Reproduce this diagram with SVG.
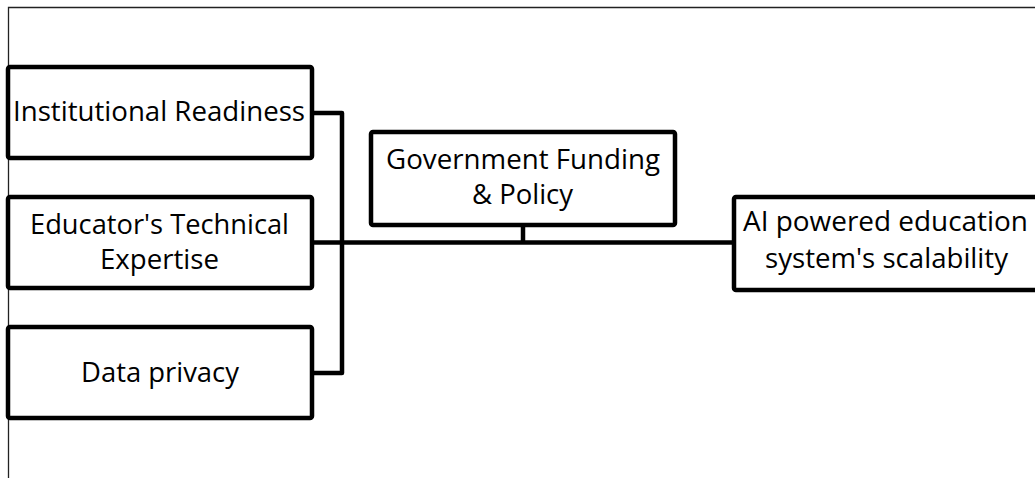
<svg xmlns="http://www.w3.org/2000/svg" width="1035" height="478" viewBox="0 0 1035 478">
  <style>
    .box { fill: #ffffff; stroke: #000000; stroke-width: 4.5; stroke-linejoin: round; }
    .lbl { font-family: "Open Sans", "Noto Sans", "Liberation Sans", sans-serif; font-size: 26.5px; fill: #000000; text-anchor: middle; }
    .wire { fill: none; stroke: #000000; stroke-width: 4.5; stroke-linejoin: round; }
    .frame { fill: none; stroke: #222222; stroke-width: 1.3; }
  </style>
  <rect x="0" y="0" width="1035" height="478" fill="#ffffff"/>
  <!-- outer frame -->
  <path class="frame" d="M8.5,478 V7.5 H1035"/>

  <!-- connectors -->
  <g id="connectors">
    <path class="wire" d="M312,113 H342 V373 H312"/>
    <path class="wire" d="M312,242.5 H734"/>
    <path class="wire" d="M523,225 V242.5"/>
  </g>

  <g id="institutional-readiness">
    <rect class="box" x="8" y="67" width="304" height="91" rx="2"/>
    <text class="lbl" x="159" y="121" textLength="292" lengthAdjust="spacingAndGlyphs">Institutional Readiness</text>
  </g>

  <g id="educator-expertise">
    <rect class="box" x="8" y="197" width="304" height="91" rx="2"/>
    <text class="lbl" x="159.5" y="234" textLength="259" lengthAdjust="spacingAndGlyphs">Educator's Technical</text>
    <text class="lbl" x="159.5" y="269" textLength="119" lengthAdjust="spacingAndGlyphs">Expertise</text>
  </g>

  <g id="data-privacy">
    <rect class="box" x="8" y="327" width="304" height="91" rx="2"/>
    <text class="lbl" x="160" y="382" textLength="158" lengthAdjust="spacingAndGlyphs">Data privacy</text>
  </g>

  <g id="government-funding">
    <rect class="box" x="371" y="132" width="304" height="93" rx="2"/>
    <text class="lbl" x="523" y="169" textLength="274" lengthAdjust="spacingAndGlyphs">Government Funding</text>
    <text class="lbl" x="522.5" y="204" textLength="101" lengthAdjust="spacingAndGlyphs">&amp; Policy</text>
  </g>

  <g id="ai-scalability">
    <rect class="box" x="734" y="197" width="304" height="93" rx="2"/>
    <text class="lbl" x="885.5" y="231" textLength="285" lengthAdjust="spacingAndGlyphs">AI powered education</text>
    <text class="lbl" x="886.5" y="268" textLength="243" lengthAdjust="spacingAndGlyphs">system's scalability</text>
  </g>
</svg>
